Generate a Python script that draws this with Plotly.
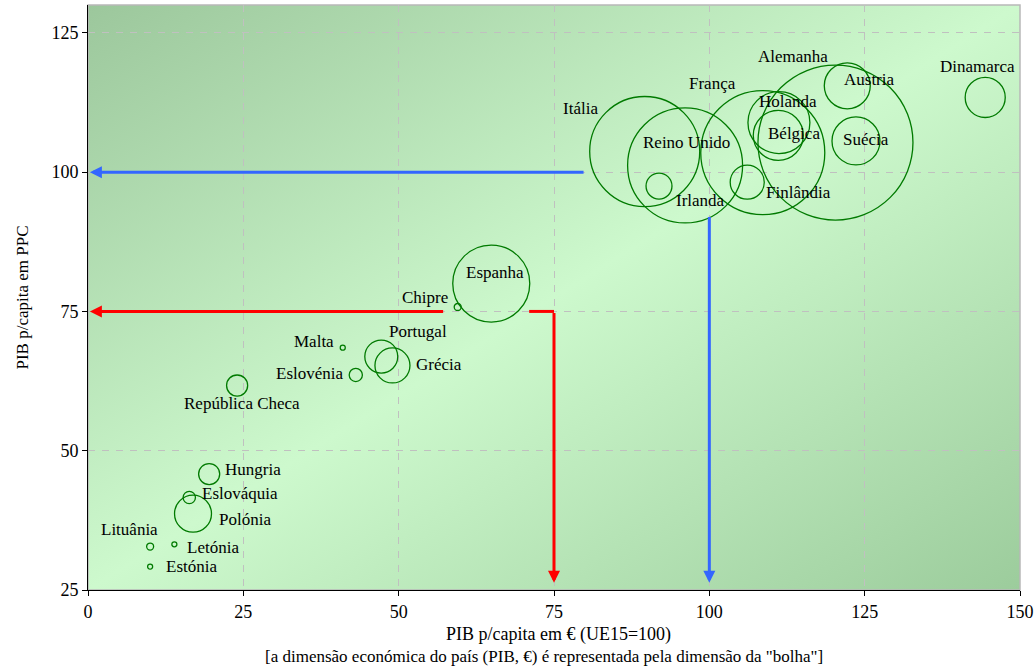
import base64
import plotly.graph_objects as go

# ---------------- data ----------------
paises = ["Alemanha", "França", "Reino Unido", "Itália", "Espanha", "Holanda",
          "Bélgica", "Suécia", "Austria", "Dinamarca", "Polónia", "Grécia",
          "Finlândia", "Portugal", "Irlanda", "República Checa", "Hungria",
          "Eslovénia", "Eslováquia", "Chipre", "Lituânia", "Malta", "Letónia",
          "Estónia"]
pib_pc_eur = [120.3, 108.6, 96.1, 89.6, 64.9, 111.2, 111.1, 123.6, 122.2, 144.4,
              16.9, 49.0, 106.1, 47.2, 91.9, 24.0, 19.5, 43.1, 16.3, 59.5,
              10.0, 41.0, 13.9, 10.0]
pib_pc_ppc = [105.3, 103.5, 101.2, 103.7, 80.0, 108.9, 106.6, 105.6, 115.5, 113.4,
              38.7, 65.3, 98.2, 66.9, 97.5, 61.7, 45.8, 63.6, 41.6, 75.8,
              32.8, 68.5, 33.2, 29.2]
pib_total = [2215, 1418, 1219, 1116, 547, 354, 231, 212, 195, 148,
             126, 113, 107, 100, 62, 41, 41, 16, 14, 4.5,
             4.5, 2.3, 2.3, 2.3]

x_ticks = [0, 25, 50, 75, 100, 125, 150]
y_ticks = [25, 50, 75, 100, 125]

media_ue15 = 100      # EU15 average
limiar = 75           # 75% threshold

# ---------------- style ----------------
FONT = "Liberation Serif"
label_offsets = {  # pixel offsets of labels from bubble centre (dx, dy up)
    "Alemanha": (-42, 86), "França": (-50, 69), "Reino Unido": (1, 23),
    "Itália": (-64, 43), "Espanha": (4, 11), "Holanda": (9, 21),
    "Bélgica": (16, 2), "Suécia": (10, 1), "Austria": (22, 6),
    "Dinamarca": (-8, 31), "Polónia": (52, -6), "Grécia": (47, 1),
    "Finlândia": (51, -10), "Portugal": (37, 25), "Irlanda": (41, -14),
    "República Checa": (5, -18), "Hungria": (44, 5), "Eslovénia": (-46, 1),
    "Eslováquia": (51, 4), "Chipre": (-33, 9), "Lituânia": (-21, 17),
    "Malta": (-29, 6), "Letónia": (39, -3), "Estónia": (41, 0),
}

max_diam = 155
sizeref = 2.0 * max(pib_total) / (max_diam ** 2)

fig = go.Figure()
fig.add_trace(go.Scatter(
    x=pib_pc_eur, y=pib_pc_ppc, mode="markers",
    marker=dict(size=pib_total, sizemode="area", sizeref=sizeref, sizemin=2,
                color="rgba(0,0,0,0)", opacity=1,
                line=dict(color="#007a00", width=1.3)),
    hoverinfo="text", text=paises, showlegend=False,
))

annotations = []
for name, xv, yv in zip(paises, pib_pc_eur, pib_pc_ppc):
    dx, dy = label_offsets[name]
    annotations.append(dict(
        x=xv, y=yv, xref="x", yref="y", text=name, showarrow=False,
        xshift=dx, yshift=dy, xanchor="center", yanchor="middle",
        font=dict(family=FONT, size=17, color="black")))

BLUE = "#3366ff"
RED = "#ff0000"

def arrow(x_tail, y_tail, x_tip, y_tip, color):
    return dict(x=x_tip, y=y_tip, ax=x_tail, ay=y_tail, xref="x", yref="y",
                axref="x", ayref="y", text="", showarrow=True,
                arrowhead=2, arrowsize=0.8, arrowwidth=3, arrowcolor=color,
                standoff=0, startstandoff=0)

x_tip_left = 0.3
y_tip_bottom = 26.3
annotations += [
    arrow(80, media_ue15, x_tip_left, media_ue15, BLUE),
    arrow(media_ue15, 92.2, media_ue15, y_tip_bottom, BLUE),
    arrow(57.4, limiar, x_tip_left, limiar, RED),
    arrow(limiar, limiar, limiar, y_tip_bottom, RED),
]

# axis titles
annotations += [
    dict(xref="paper", yref="paper", x=0.5, y=0, yanchor="middle", yshift=-44,
         xshift=4,
         text="PIB p/capita em € (UE15=100)", showarrow=False,
         font=dict(family=FONT, size=18, color="black")),
    dict(xref="paper", yref="paper", x=0.5, y=0, yanchor="middle", yshift=-66,
         xshift=-10,
         text="[a dimensão económica do país (PIB, €) é representada pela dimensão da \"bolha\"]",
         showarrow=False, font=dict(family=FONT, size=17, color="black")),
    dict(xref="paper", yref="paper", x=0, y=0.5, xanchor="center", xshift=-66,
         text="PIB p/capita em PPC", textangle=-90, showarrow=False,
         font=dict(family=FONT, size=17, color="black")),
]

shapes = [
    dict(type="line", xref="x", yref="y", x0=71, x1=limiar, y0=limiar, y1=limiar,
         line=dict(color=RED, width=3)),
    dict(type="rect", xref="paper", yref="paper", x0=0, x1=1, y0=0, y1=1,
         line=dict(color="#b8b8b8", width=1.5), layer="below"),
]

svg = ("<svg xmlns='http://www.w3.org/2000/svg' width='100' height='100' "
       "viewBox='0 0 100 100' preserveAspectRatio='none'><defs>"
       "<linearGradient id='g' x1='0' y1='0' x2='1' y2='1'>"
       "<stop offset='0' stop-color='#9cc79c'/>"
       "<stop offset='0.5' stop-color='#cdf9cd'/>"
       "<stop offset='1' stop-color='#9ccc9c'/>"
       "</linearGradient></defs>"
       "<rect x='0' y='0' width='100' height='100' fill='url(#g)'/></svg>")
svg_uri = "data:image/svg+xml;base64," + base64.b64encode(svg.encode()).decode()

axis_common = dict(
    showline=True, linecolor="black", linewidth=1, mirror=False,
    ticks="outside", ticklen=5, tickcolor="black", tickwidth=1,
    showgrid=True, gridcolor="#c0c0c0", gridwidth=1, griddash="7px,7px",
    zeroline=False, automargin=False,
    tickfont=dict(family=FONT, size=18, color="black"),
)

fig.update_layout(
    width=1036, height=669,
    margin=dict(l=88, r=16, t=5, b=79),
    paper_bgcolor="white", plot_bgcolor="#c8f4c8",
    xaxis=dict(range=[0, 150], tickvals=x_ticks, **axis_common),
    yaxis=dict(range=[25, 130], tickvals=y_ticks, **axis_common),
    annotations=annotations, shapes=shapes,
    images=[dict(source=svg_uri, xref="paper", yref="paper", x=0, y=1,
                 sizex=1, sizey=1, sizing="stretch", xanchor="left",
                 yanchor="top", layer="below")],
    showlegend=False,
)

fig.write_html(
    "out.html",
    config={"displayModeBar": False},
    post_script="document.body.style.margin='0px';document.body.style.overflow='hidden';",
)
